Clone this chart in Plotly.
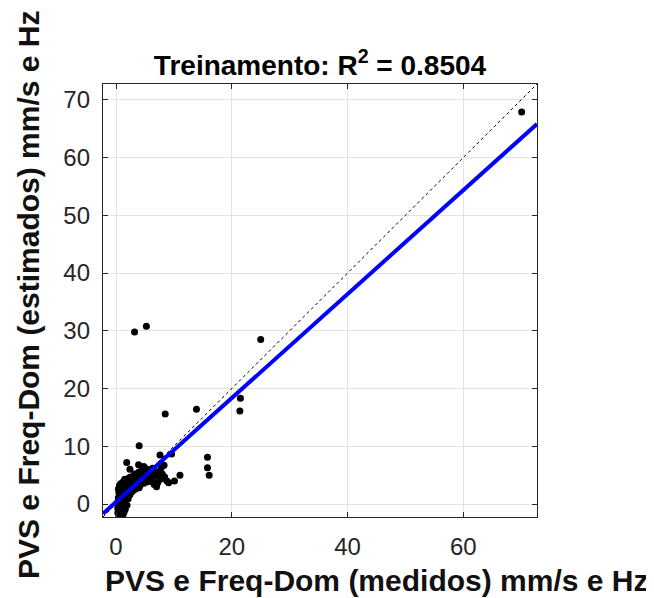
import plotly.graph_objects as go

x_meas = [
    70.1, 3.2, 5.25, 25.0, 21.5, 21.4, 13.9, 8.5, 15.8, 15.8, 16.1,
    4.0, 7.6, 9.6, 1.85, 3.9, 4.8, 7.8, 2.4, 11.05, 10.1, 9.1, 8.4, 8.3,
    0.3, 0.5, 0.6, 0.8, 1.0, 1.2, 0.4, 0.7, 0.9, 1.1, 0.5, 0.8, 1.0, 1.3,
    0.6, 0.9, 1.2, 1.5, 0.7, 1.0, 1.4, 1.7, 0.5, 0.8, 1.1, 1.5, 2.0, 1.8,
    0.6, 1.3, 0.3, 0.2, 0.4, 1.6, 2.1, 2.3, 1.9, 0.9, 1.4, 0.7, 0.6, 1.0,
    1.8, 2.3, 2.6, 2.9, 3.1, 3.3, 3.6, 3.8, 4.1, 4.3, 4.6, 4.9, 5.1, 5.4,
    5.6, 5.9, 6.2, 6.5, 6.8, 7.1, 7.4, 7.7, 8.0, 2.1, 2.8, 3.5, 4.2, 4.8,
    5.3, 6.0, 6.6, 7.2, 2.5, 3.2, 3.9, 4.5, 5.2, 5.8, 6.3, 2.0, 1.6, 3.0,
    4.0, 2.4, 2.7, 3.4, 7.0, 8.3, 8.8, 1.2, 1.5, 2.2, 2.6, 3.0, 3.7, 4.4,
    5.0, 5.7, 6.4, 0.8, 1.1, 1.3, 0.4, 0.9,
]
y_est = [
    67.9, 29.8, 30.8, 28.5, 18.3, 16.1, 16.4, 15.6, 8.1, 6.3, 5.0,
    10.1, 8.5, 8.65, 7.2, 6.8, 6.5, 6.3, 6.0, 5.0, 4.0, 3.7, 4.7, 6.7,
    -1.5, -2.0, -1.8, -2.1, -1.6, -1.9, -1.0, -0.8, -0.5, -1.2, -0.3, 0.0, 0.3, -0.4,
    0.5, 0.8, 1.0, 0.5, 1.3, 1.6, 1.8, 1.2, 2.0, 2.4, 2.8, 2.3, 1.9, 2.9,
    3.2, 3.4, -0.7, 0.2, 1.1, -0.9, 0.9, 2.4, -0.2, -2.2, -1.4, -1.3, -2.3, -2.4,
    3.6, 3.9, 3.2, 4.1, 3.5, 4.4, 3.9, 4.6, 4.0, 4.8, 4.2, 4.9, 4.4, 5.1,
    4.5, 5.3, 4.7, 5.5, 4.9, 5.6, 5.0, 4.3, 5.2, 2.7, 2.9, 3.1, 3.3, 3.6,
    3.8, 3.9, 3.4, 3.7, 4.7, 5.2, 5.5, 5.9, 6.1, 5.9, 6.2, 4.2, 3.0, 2.4,
    2.8, 1.6, 2.1, 2.6, 3.0, 4.6, 4.0, 3.8, 4.3, 4.5, 4.1, 4.3, 4.2, 4.1,
    4.0, 4.2, 4.4, 3.5, 0.6, -0.6, 2.6, 1.9,
]

# Linear fit
fit_slope = 0.9
fit_intercept = 0.35
axis_range = [-2.25, 72.75]
y_tick_vals = [0, 10, 20, 30, 40, 50, 60, 70]
x_tick_vals = [0, 20, 40, 60]

title_text = "Treinamento: R<sup>2</sup> = 0.8504"
x_label = "PVS e Freq-Dom (medidos) mm/s e Hz"
y_label = "PVS e Freq-Dom (estimados) mm/s e Hz"

FONT = "Liberation Sans, Arial, sans-serif"
AX = "#262626"

# page is offset by the 8px body margin
W, H = 646, 590
L, R, T, B = 95, 117, 76, 81
PW, PH = W - L - R, H - T - B

fig = go.Figure()

# identity (y = x) dotted reference line
fig.add_trace(go.Scatter(
    x=axis_range, y=axis_range, mode="lines",
    line=dict(color="black", width=1, dash="dot"),
    showlegend=False, hoverinfo="skip",
))

# data points
fig.add_trace(go.Scatter(
    x=x_meas, y=y_est, mode="markers",
    marker=dict(color="black", size=7, line=dict(width=0)),
    showlegend=False,
))

# fitted line
fx = axis_range
fy = [fit_slope * v + fit_intercept for v in fx]
fig.add_trace(go.Scatter(
    x=fx, y=fy, mode="lines",
    line=dict(color="#0000ff", width=4),
    showlegend=False,
))

axis_common = dict(
    range=axis_range, showgrid=True,
    gridcolor="#e3e3e3", gridwidth=1, zeroline=False,
    showline=True, linecolor=AX, linewidth=1.3, mirror="ticks",
    ticks="inside", ticklen=5, tickcolor=AX, tickwidth=1,
    tickfont=dict(family=FONT, size=24, color=AX),
)

fig.update_xaxes(**axis_common, tickvals=x_tick_vals, domain=[0, 1],
                 ticklabelstandoff=8)
fig.update_yaxes(**axis_common, tickvals=y_tick_vals, domain=[0, 1],
                 ticklabelstandoff=7)

fig.update_layout(
    width=W, height=H,
    margin=dict(l=L, r=R, t=T, b=B),
    paper_bgcolor="white", plot_bgcolor="white",
    font=dict(family=FONT, color="black"),
    title=dict(
        text="<b>" + title_text + "</b>", x=312 / W, xanchor="center",
        y=1 - 57 / H, yanchor="middle",
        font=dict(family=FONT, size=28, color="black"),
    ),
    annotations=[
        dict(text="<b>" + x_label + "</b>", xref="paper", yref="paper",
             x=(368 - L) / PW, y=(H - B - 572) / PH, xanchor="center", yanchor="middle",
             showarrow=False, font=dict(family=FONT, size=30, color="#111111")),
        dict(text="<b>" + y_label + "</b>", xref="paper", yref="paper",
             x=(20 - L) / PW, y=(H - B - 287) / PH, xanchor="center", yanchor="middle",
             textangle=-90, showarrow=False,
             font=dict(family=FONT, size=30, color="#111111")),
    ],
)

fig.write_html("out.html")
